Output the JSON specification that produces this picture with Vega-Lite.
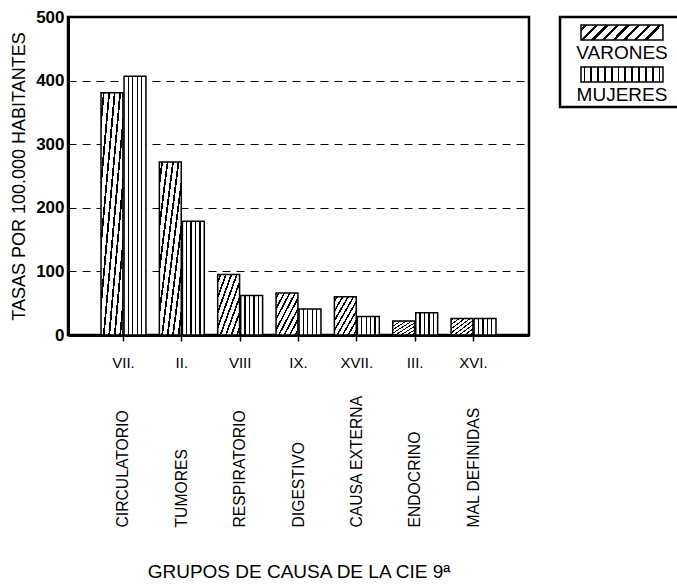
{
  "$schema": "https://vega.github.io/schema/vega-lite/v6.json",
  "background": "white",
  "padding": {"left": 9, "top": 6, "right": 0, "bottom": 0},
  "config": {"font": "Liberation Sans", "axis": {"labelColor": "black", "titleColor": "black"}},
  "spacing": 27,
  "hconcat": [
    {
      "width": 461,
      "height": 318,
      "view": {"stroke": "black", "strokeWidth": 2.5},
      "data": {"values": [
        {"grupo": "VII.", "causa": "CIRCULATORIO", "sexo": "VARONES", "tasa": 381},
        {"grupo": "VII.", "causa": "CIRCULATORIO", "sexo": "MUJERES", "tasa": 407},
        {"grupo": "II.", "causa": "TUMORES", "sexo": "VARONES", "tasa": 272},
        {"grupo": "II.", "causa": "TUMORES", "sexo": "MUJERES", "tasa": 179},
        {"grupo": "VIII", "causa": "RESPIRATORIO", "sexo": "VARONES", "tasa": 95},
        {"grupo": "VIII", "causa": "RESPIRATORIO", "sexo": "MUJERES", "tasa": 62},
        {"grupo": "IX.", "causa": "DIGESTIVO", "sexo": "VARONES", "tasa": 66},
        {"grupo": "IX.", "causa": "DIGESTIVO", "sexo": "MUJERES", "tasa": 41},
        {"grupo": "XVII.", "causa": "CAUSA EXTERNA", "sexo": "VARONES", "tasa": 60},
        {"grupo": "XVII.", "causa": "CAUSA EXTERNA", "sexo": "MUJERES", "tasa": 29},
        {"grupo": "III.", "causa": "ENDOCRINO", "sexo": "VARONES", "tasa": 22},
        {"grupo": "III.", "causa": "ENDOCRINO", "sexo": "MUJERES", "tasa": 35},
        {"grupo": "XVI.", "causa": "MAL DEFINIDAS", "sexo": "VARONES", "tasa": 26},
        {"grupo": "XVI.", "causa": "MAL DEFINIDAS", "sexo": "MUJERES", "tasa": 26}
      ]},
      "encoding": {
        "xOffset": {"field": "sexo", "type": "nominal", "sort": ["VARONES", "MUJERES"], "scale": {"paddingInner": 0.05}},
        "y": {"field": "tasa", "type": "quantitative", "scale": {"domain": [0, 500], "nice": false}}
      },
      "layer": [
        {
          "mark": {"type": "bar", "stroke": "black", "strokeWidth": 1.5},
          "encoding": {
            "x": {
              "field": "grupo", "type": "nominal",
              "sort": ["VII.", "II.", "VIII", "IX.", "XVII.", "III.", "XVI."],
              "scale": {"paddingInner": 0.23, "paddingOuter": 0.566},
              "axis": {
                "orient": "bottom", "title": null, "labelAngle": 0,
                "labelFont": "Liberation Sans", "labelFontSize": 15,
                "labelPadding": 14, "tickSize": 6, "tickColor": "black", "tickWidth": 1.5,
                "domainColor": "black", "domainWidth": 3
              }
            },
            "y": {
              "field": "tasa", "type": "quantitative",
              "axis": {
                "title": "TASAS POR 100.000 HABITANTES", "titleFontSize": 18, "titleFontWeight": "normal",
                "titlePadding": 7, "values": [0, 100, 200, 300, 400, 500],
                "labelFontSize": 17, "labelFontWeight": "bold", "labelPadding": 4, "ticks": false,
                "domainColor": "black", "domainWidth": 3,
                "grid": true, "gridColor": "black", "gridDash": [8, 6], "gridWidth": 1
              }
            },
            "fill": {
              "condition": {
                "test": "datum.sexo === 'MUJERES'",
                "value": {"gradient": "linear", "x1": 0, "y1": 0, "x2": 1, "y2": 0, "stops": [
                  {"offset": 0, "color": "white"},
                  {"offset": 0.17, "color": "white"}, {"offset": 0.17, "color": "black"}, {"offset": 0.23, "color": "black"}, {"offset": 0.23, "color": "white"},
                  {"offset": 0.37, "color": "white"}, {"offset": 0.37, "color": "black"}, {"offset": 0.43, "color": "black"}, {"offset": 0.43, "color": "white"},
                  {"offset": 0.57, "color": "white"}, {"offset": 0.57, "color": "black"}, {"offset": 0.63, "color": "black"}, {"offset": 0.63, "color": "white"},
                  {"offset": 0.77, "color": "white"}, {"offset": 0.77, "color": "black"}, {"offset": 0.83, "color": "black"}, {"offset": 0.83, "color": "white"},
                  {"offset": 1, "color": "white"}
                ]}
              },
              "value": {"gradient": "linear", "x1": 0, "y1": 0, "x2": 1, "y2": 1, "stops": [
                {"offset": 0, "color": "white"},
                {"offset": 0.0425, "color": "white"}, {"offset": 0.0425, "color": "black"}, {"offset": 0.0825, "color": "black"}, {"offset": 0.0825, "color": "white"},
                {"offset": 0.1675, "color": "white"}, {"offset": 0.1675, "color": "black"}, {"offset": 0.2075, "color": "black"}, {"offset": 0.2075, "color": "white"},
                {"offset": 0.2925, "color": "white"}, {"offset": 0.2925, "color": "black"}, {"offset": 0.3325, "color": "black"}, {"offset": 0.3325, "color": "white"},
                {"offset": 0.4175, "color": "white"}, {"offset": 0.4175, "color": "black"}, {"offset": 0.4575, "color": "black"}, {"offset": 0.4575, "color": "white"},
                {"offset": 0.5425, "color": "white"}, {"offset": 0.5425, "color": "black"}, {"offset": 0.5825, "color": "black"}, {"offset": 0.5825, "color": "white"},
                {"offset": 0.6675, "color": "white"}, {"offset": 0.6675, "color": "black"}, {"offset": 0.7075, "color": "black"}, {"offset": 0.7075, "color": "white"},
                {"offset": 0.7925, "color": "white"}, {"offset": 0.7925, "color": "black"}, {"offset": 0.8325, "color": "black"}, {"offset": 0.8325, "color": "white"},
                {"offset": 0.9175, "color": "white"}, {"offset": 0.9175, "color": "black"}, {"offset": 0.9575, "color": "black"}, {"offset": 0.9575, "color": "white"},
                {"offset": 1, "color": "white"}
              ]}
            }
          }
        },
        {
          "mark": {"type": "bar", "opacity": 0},
          "encoding": {
            "x": {
              "field": "grupo", "type": "nominal",
              "sort": ["VII.", "II.", "VIII", "IX.", "XVII.", "III.", "XVI."],
              "axis": {
                "orient": "bottom", "domain": false, "ticks": false,
                "labelAngle": 270, "labelAlign": "left", "labelBaseline": "middle",
                "labelPadding": 192, "labelFont": "Liberation Sans", "labelFontSize": 15.7,
                "labelOverlap": false, "labelBound": false,
                "labelExpr": "datum.value === 'VII.' ? 'CIRCULATORIO' : datum.value === 'II.' ? 'TUMORES' : datum.value === 'VIII' ? 'RESPIRATORIO' : datum.value === 'IX.' ? 'DIGESTIVO' : datum.value === 'XVII.' ? 'CAUSA EXTERNA' : datum.value === 'III.' ? 'ENDOCRINO' : 'MAL DEFINIDAS'",
                "title": "GRUPOS DE CAUSA DE LA CIE 9ª", "titleFontSize": 19, "titleFontWeight": "normal",
                "titlePadding": 35
              }
            }
          }
        }
      ],
      "resolve": {"axis": {"x": "independent"}}
    },
    {
      "width": 121,
      "height": 90,
      "view": {"stroke": "black", "strokeWidth": 2.5},
      "data": {"values": [{"sexo": "VARONES"}, {"sexo": "MUJERES"}]},
      "layer": [
        {
          "mark": {"type": "rect", "stroke": "black", "strokeWidth": 1.5},
          "encoding": {
            "y": {"field": "sexo", "type": "nominal", "sort": ["VARONES", "MUJERES"], "axis": null,
                  "scale": {"paddingInner": 0.643, "paddingOuter": 0.393, "align": 0.24}},
            "x": {"datum": 0, "type": "quantitative", "axis": null, "scale": {"domain": [-0.256, 1.22], "nice": false, "zero": false}},
            "x2": {"datum": 1},
            "fill": {
              "condition": {
                "test": "datum.sexo === 'MUJERES'",
                "value": {"gradient": "linear", "x1": 0, "y1": 0, "x2": 1, "y2": 0, "stops": [
                  {"offset": 0, "color": "white"},
                  {"offset": 0.0307, "color": "white"}, {"offset": 0.0307, "color": "black"}, {"offset": 0.0527, "color": "black"}, {"offset": 0.0527, "color": "white"},
                  {"offset": 0.114, "color": "white"}, {"offset": 0.114, "color": "black"}, {"offset": 0.136, "color": "black"}, {"offset": 0.136, "color": "white"},
                  {"offset": 0.1974, "color": "white"}, {"offset": 0.1974, "color": "black"}, {"offset": 0.2194, "color": "black"}, {"offset": 0.2194, "color": "white"},
                  {"offset": 0.2807, "color": "white"}, {"offset": 0.2807, "color": "black"}, {"offset": 0.3027, "color": "black"}, {"offset": 0.3027, "color": "white"},
                  {"offset": 0.364, "color": "white"}, {"offset": 0.364, "color": "black"}, {"offset": 0.386, "color": "black"}, {"offset": 0.386, "color": "white"},
                  {"offset": 0.4474, "color": "white"}, {"offset": 0.4474, "color": "black"}, {"offset": 0.4694, "color": "black"}, {"offset": 0.4694, "color": "white"},
                  {"offset": 0.5307, "color": "white"}, {"offset": 0.5307, "color": "black"}, {"offset": 0.5527, "color": "black"}, {"offset": 0.5527, "color": "white"},
                  {"offset": 0.614, "color": "white"}, {"offset": 0.614, "color": "black"}, {"offset": 0.636, "color": "black"}, {"offset": 0.636, "color": "white"},
                  {"offset": 0.6974, "color": "white"}, {"offset": 0.6974, "color": "black"}, {"offset": 0.7194, "color": "black"}, {"offset": 0.7194, "color": "white"},
                  {"offset": 0.7807, "color": "white"}, {"offset": 0.7807, "color": "black"}, {"offset": 0.8027, "color": "black"}, {"offset": 0.8027, "color": "white"},
                  {"offset": 0.864, "color": "white"}, {"offset": 0.864, "color": "black"}, {"offset": 0.886, "color": "black"}, {"offset": 0.886, "color": "white"},
                  {"offset": 0.9474, "color": "white"}, {"offset": 0.9474, "color": "black"}, {"offset": 0.9694, "color": "black"}, {"offset": 0.9694, "color": "white"},
                  {"offset": 1, "color": "white"}
                ]}
              },
              "value": {"gradient": "linear", "x1": 0, "y1": 0, "x2": 1, "y2": 0.18, "stops": [
                {"offset": 0, "color": "white"},
                {"offset": 0.0425, "color": "white"}, {"offset": 0.0425, "color": "black"}, {"offset": 0.0825, "color": "black"}, {"offset": 0.0825, "color": "white"},
                {"offset": 0.1675, "color": "white"}, {"offset": 0.1675, "color": "black"}, {"offset": 0.2075, "color": "black"}, {"offset": 0.2075, "color": "white"},
                {"offset": 0.2925, "color": "white"}, {"offset": 0.2925, "color": "black"}, {"offset": 0.3325, "color": "black"}, {"offset": 0.3325, "color": "white"},
                {"offset": 0.4175, "color": "white"}, {"offset": 0.4175, "color": "black"}, {"offset": 0.4575, "color": "black"}, {"offset": 0.4575, "color": "white"},
                {"offset": 0.5425, "color": "white"}, {"offset": 0.5425, "color": "black"}, {"offset": 0.5825, "color": "black"}, {"offset": 0.5825, "color": "white"},
                {"offset": 0.6675, "color": "white"}, {"offset": 0.6675, "color": "black"}, {"offset": 0.7075, "color": "black"}, {"offset": 0.7075, "color": "white"},
                {"offset": 0.7925, "color": "white"}, {"offset": 0.7925, "color": "black"}, {"offset": 0.8325, "color": "black"}, {"offset": 0.8325, "color": "white"},
                {"offset": 0.9175, "color": "white"}, {"offset": 0.9175, "color": "black"}, {"offset": 0.9575, "color": "black"}, {"offset": 0.9575, "color": "white"},
                {"offset": 1, "color": "white"}
              ]}
            }
          }
        },
        {
          "mark": {"type": "text", "baseline": "top", "dy": 4, "fontSize": 19, "align": "center", "color": "black"},
          "encoding": {
            "text": {"field": "sexo", "type": "nominal"},
            "x": {"datum": 0.5, "type": "quantitative"},
            "y": {"field": "sexo", "type": "nominal", "sort": ["VARONES", "MUJERES"], "bandPosition": 1}
          }
        }
      ]
    }
  ]
}
